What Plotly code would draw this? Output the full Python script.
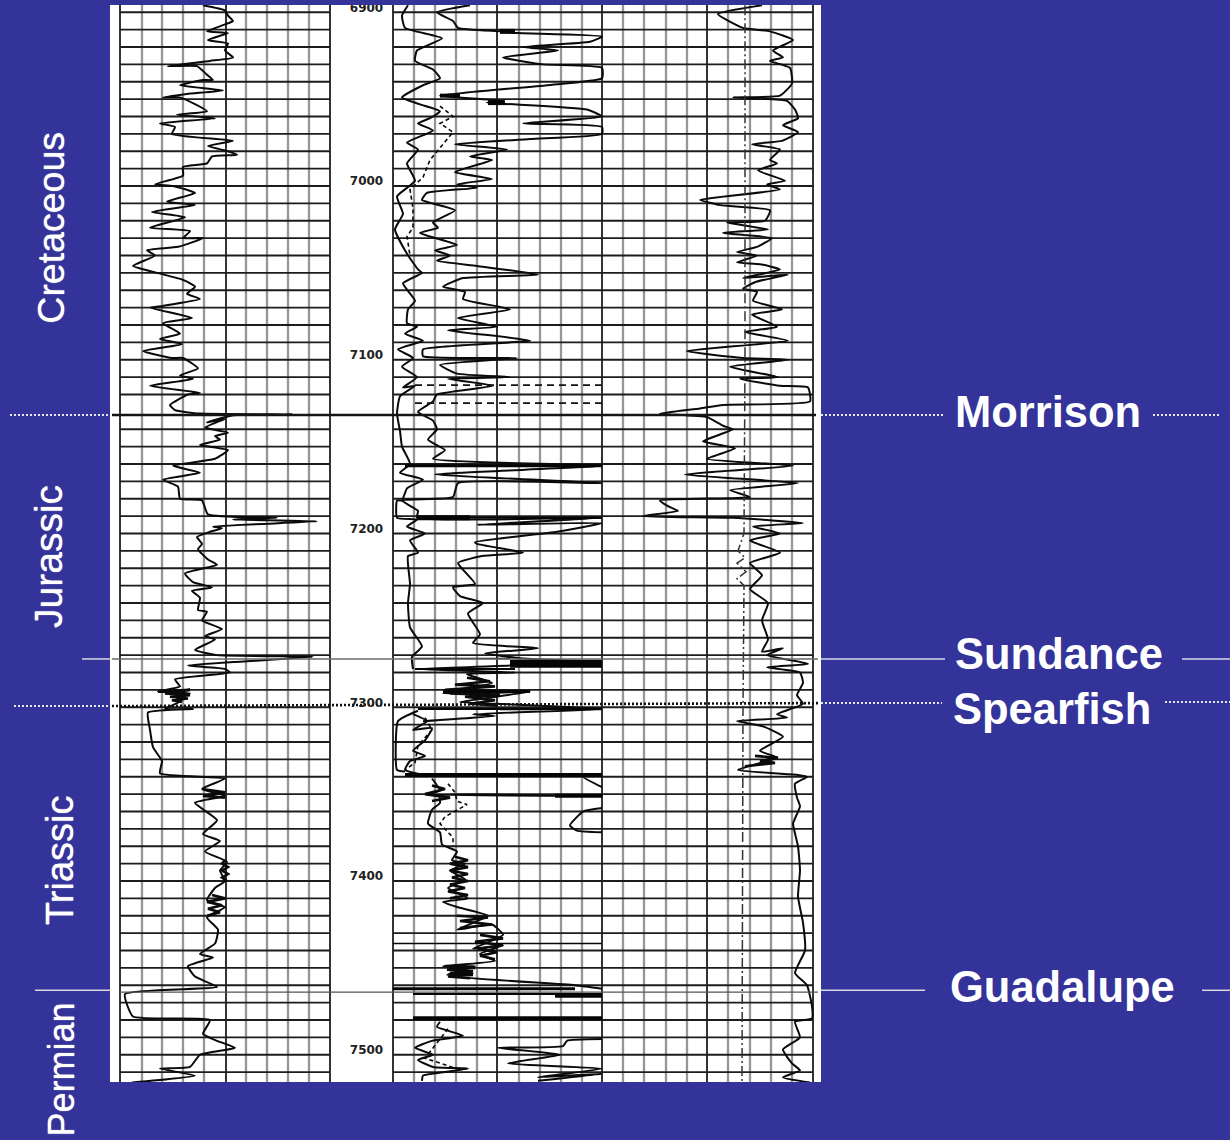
import plotly.graph_objects as go

# Depth in feet; curve value in chart units along the horizontal scale
gr_curve = [(203,6896),(225,6899),(228,6902),(233,6905),(225,6907),(207,6911),(228,6912),(208,6916),(228,6918),(225,6922),(233,6926),(210,6928),(168,6931),(197,6931),(207,6936),(213,6939),(203,6939),(180,6942),(223,6945),(187,6947),(163,6949),(180,6949),(207,6957),(177,6959),(215,6961),(160,6964),(175,6966),(172,6970),(233,6974),(208,6977),(228,6980),(237,6982),(212,6983),(207,6987),(183,6989),(183,6994),(155,6999),(173,7000),(195,7004),(167,7009),(195,7011),(152,7015),(185,7018),(150,7024),(190,7026),(183,7030),(203,7030),(178,7035),(147,7037),(155,7040),(133,7046),(157,7050),(183,7054),(195,7058),(187,7062),(200,7065),(163,7069),(150,7070),(192,7076),(163,7079),(180,7085),(160,7088),(182,7091),(143,7095),(172,7099),(183,7099),(198,7105),(180,7109),(193,7111),(150,7115),(200,7119),(188,7120),(170,7126),(175,7129),(200,7131),(293,7131.4),(233,7132),(207,7136),(225,7134),(205,7139),(228,7142),(215,7144),(220,7146),(200,7149),(228,7152),(215,7157),(173,7161),(200,7165),(163,7169),(178,7173),(180,7180),(202,7181),(208,7189),(277,7191),(233,7192),(317,7193),(213,7196),(222,7197),(210,7199),(197,7202),(202,7206),(198,7209),(208,7215),(217,7218),(185,7223),(193,7228),(212,7231),(192,7233),(200,7237),(198,7244),(207,7245),(202,7250),(222,7255),(205,7259),(215,7261),(195,7267),(217,7270),(313,7271),(233,7274),(188,7276),(225,7278),(230,7280),(175,7284),(180,7288),(158,7291),(190,7292),(175,7294),(182,7296),(165,7301),(193,7301),(148,7303),(150,7313),(153,7323),(162,7331),(160,7338),(225,7341),(202,7347),(225,7351),(195,7355),(217,7365),(203,7373),(220,7377),(205,7383),(227,7389),(220,7394),(225,7400),(215,7404),(207,7411),(225,7415),(207,7421),(218,7428),(215,7436),(200,7442),(213,7444),(188,7449),(195,7455),(217,7461),(125,7465),(133,7478),(210,7480),(203,7488),(217,7492),(235,7496),(200,7500),(190,7507),(160,7508),(195,7512),(132,7516)]

shallow_upper = [(408,6896),(402,6902),(405,6909),(442,6915),(417,6922),(415,6928),(433,6933),(440,6938),(423,6942),(402,6949),(420,6953),(440,6957),(430,6961),(418,6964),(433,6968),(407,6975),(418,6979),(407,6987),(415,6997),(397,7006),(403,7016),(395,7025),(407,7039),(418,7048),(422,7050),(403,7056),(415,7066),(408,7071),(407,7079),(417,7081),(405,7085),(423,7089),(398,7094),(413,7099),(402,7104),(417,7110),(403,7116),(415,7115),(400,7121),(397,7131),(400,7141),(402,7150),(410,7160),(400,7165),(423,7169),(407,7174),(402,7181),(397,7181),(397,7191),(417,7192),(407,7196),(425,7200),(410,7204),(418,7211),(408,7213),(410,7229),(408,7240),(410,7254),(422,7265),(412,7271),(413,7278)]
shallow_lower = [(418,7302),(398,7308),(397,7336),(405,7337)]

deep_upper = [(470,6896),(437,6900),(453,6905),(458,6909),(500,6911),(518,6912),(602,6914),(590,6917),(523,6920),(558,6922),(503,6926),(543,6930),(602,6932),(602,6938),(547,6942),(440,6948),(503,6951),(487,6952),(587,6956),(602,6960),(523,6964),(602,6966),(602,6970),(530,6973),(455,6976),(507,6979),(470,6983),(492,6985),(455,6992),(492,6996),(457,6999),(477,7001),(427,7004),(422,7008),(455,7014),(433,7021),(438,7024),(420,7027),(457,7034),(435,7037),(450,7040),(437,7043),(477,7046),(538,7051),(463,7053),(443,7058),(465,7061),(463,7065),(510,7071),(458,7076),(497,7081),(448,7083),(530,7089),(423,7094),(423,7098),(517,7099),(440,7103),(457,7108),(510,7110),(448,7111),(493,7115),(437,7120),(433,7124),(418,7130),(433,7135),(437,7140),(428,7146),(445,7152),(433,7157),(602,7161),(435,7166),(602,7171),(458,7171),(453,7179),(402,7181),(418,7187),(417,7191),(602,7191),(477,7195),(602,7194),(557,7199),(475,7205),(477,7206),(523,7211),(482,7213),(458,7217),(475,7229),(453,7231),(460,7236),(483,7240),(468,7246),(480,7258),(473,7263),(538,7266),(485,7269),(523,7272),(602,7274),(417,7278),(515,7280),(467,7281),(492,7286),(443,7292),(530,7291),(460,7297),(497,7298),(602,7301),(473,7304),(495,7305),(423,7308)]
deep_triassic = [(413,7304),(427,7308),(413,7313),(432,7312),(425,7319),(413,7325),(425,7328),(410,7331),(405,7336),(425,7339),(602,7339)]
deep_below = [(432,7341),(440,7348),(427,7350),(602,7351),(557,7351),(440,7351),(440,7355),(432,7359),(428,7367),(440,7372),(442,7379),(457,7383),(452,7388),(465,7390),(450,7394),(465,7399),(448,7404),(468,7410),(443,7412),(457,7415),(488,7420),(457,7428),(492,7425),(503,7431),(473,7439),(503,7437),(480,7442),(495,7446),(443,7449),(475,7449),(447,7454),(473,7453),(457,7455),(575,7460),(602,7462)]
deep_spike = [(602,7339),(583,7340),(602,7346)]
deep_tail = [(602,7358),(583,7360),(570,7368),(577,7371),(602,7372)]
deep_permian = [(440,7481),(437,7484),(463,7489),(432,7492),(415,7496),(433,7500),(418,7503),(433,7507),(468,7508),(423,7512),(422,7515)]
deep_permian_right = [(602,7491),(567,7492),(563,7495),(498,7496),(560,7500),(508,7505),(602,7508),(538,7513),(602,7511),(538,7515)]

# Densely wiggling intervals, drawn a little heavier
dense_gr_a = [(158,7291),(190,7290),(165,7292),(190,7293),(170,7294),(188,7295),(172,7296),(182,7297)]
dense_gr_b = [(225,7388),(222,7390),(228,7392),(222,7394),(228,7396),(222,7398),(227,7400)]
dense_gr_c = [(212,7408),(225,7410),(207,7412),(222,7414),(208,7416),(220,7418),(207,7420)]
dense_gr_d = [(202,7347),(225,7349),(203,7351),(225,7352)]
dense_deep_a = [(467,7283),(490,7285),(455,7287),(495,7288),(445,7290),(525,7291),(450,7292),(500,7293),(465,7294),(495,7296),(470,7298),(497,7299)]
dense_deep_b = [(455,7386),(468,7388),(450,7390),(468,7392),(450,7394),(468,7396),(452,7398),(468,7400),(450,7402),(465,7404),(448,7406),(468,7408),(450,7410)]
dense_deep_c = [(457,7420),(488,7421),(460,7423),(492,7425),(460,7427)]
dense_deep_d = [(480,7431),(503,7433),(475,7435),(503,7437),(478,7439),(497,7441),(480,7443),(495,7445)]
dense_deep_e = [(445,7449),(475,7450),(447,7451),(473,7452),(450,7453),(473,7454),(448,7455),(470,7456)]
dense_deep_f = [(432,7345),(445,7347),(425,7350),(450,7352),(432,7354)]
dense_t3_a = [(755,7328),(778,7329),(760,7331),(775,7332),(745,7334)]

dashed_a = [(440,6954),(453,6960),(440,6964),(453,6969),(430,6985),(423,6995),(410,7002),(413,7013),(413,7024),(407,7029),(410,7040)]
dashed_b = [(448,7344),(455,7349),(457,7354),(467,7356),(445,7363),(440,7367),(453,7375),(453,7380)]
dashed_c = [(448,7485),(437,7493),(425,7502),(457,7508),(470,7508)]
dashed_d = [(425,7306),(432,7313),(418,7322),(415,7332),(405,7336)]
dashed_flags_depth = [7114.6, 7125]
dashed_flags_x = [415, 602]

track3_curve = [(762,6896),(718,6901),(743,6909),(770,6911),(793,6916),(773,6922),(783,6926),(770,6928),(790,6932),(792,6941),(780,6948),(733,6949),(787,6951),(795,6956),(798,6961),(783,6965),(798,6969),(782,6974),(752,6976),(780,6979),(770,6985),(777,6987),(758,6991),(785,6997),(767,6999),(780,7002),(700,7008),(720,7011),(770,7014),(765,7020),(727,7021),(768,7025),(723,7027),(772,7030),(757,7035),(737,7038),(757,7040),(737,7044),(760,7045),(780,7048),(743,7053),(788,7051),(757,7055),(743,7059),(757,7061),(753,7066),(782,7071),(752,7074),(777,7081),(745,7084),(788,7089),(687,7095),(743,7099),(788,7100),(730,7104),(778,7110),(740,7111),(780,7115),(808,7116),(810,7124),(723,7126),(700,7128),(660,7131),(707,7133),(723,7138),(733,7140),(720,7143),(703,7147),(735,7151),(707,7157),(793,7161),(685,7166),(798,7171),(730,7175),(750,7179),(660,7181),(667,7184),(678,7187),(643,7190),(733,7191),(803,7194),(753,7196),(780,7200),(750,7204),(780,7211),(750,7217),(762,7224),(750,7232),(768,7240),(762,7250),(768,7261),(762,7268),(783,7266),(767,7270),(808,7275),(767,7277),(800,7280),(803,7286),(797,7293),(803,7298),(777,7304),(787,7306),(737,7308),(763,7311),(783,7317),(760,7325),(777,7329),(738,7336),(798,7339),(807,7340),(795,7344),(797,7352),(800,7357),(795,7364),(793,7367),(798,7380),(800,7394),(798,7409),(803,7424),(805,7440),(795,7453),(807,7460),(812,7472),(812,7479),(795,7481),(800,7490),(783,7497),(792,7505),(800,7509),(783,7513),(810,7516)]
track3_dashed = [(745,6896),(745,7100),(744,7200),(738,7210),(745,7214),(737,7217),(746,7222),(737,7226),(744,7230),(743,7300),(742,7516)]

# x-start, x-end, depth, thickness of the saturated log excursions
bands = [(405,602,7161,3),(417,470,7191,5),(417,602,7191,2),(510,602,7275,8),(415,510,7272,1.5),(415,515,7278,2),(405,602,7339,4),(555,602,7351,4),(393,575,7462,3),(413,602,7465,2),(555,602,7466,4),(413,602,7479,4),(500,602,7301,2.5),(418,602,7301,2),(443,530,7291,3),(500,515,6911,5),(440,460,6948,4),(488,505,6952,5),(393,602,7436,1.5)]

grid_depths = [d for d in range(6900, 7520, 10) if d != 7130]
track_spans = [(120, 330), (393, 813)]
minor_verticals = [142,162,183,204,246,267,288,309,414,435,456,477,519,540,561,582,623,644,666,687,728,750,771,792]
major_verticals = [120,226,330,393,497,602,707,813]

depth_ticks = [6900, 7000, 7100, 7200, 7300, 7400, 7500]

morrison_depth = 7131.8
sundance_depth = 7272.2
spearfish_left_depth, spearfish_right_depth = 7299.3, 7297.6
guadalupe_depth = 7463.9

PANEL_TOP, PANEL_BOTTOM = 6895.8, 7515.7
Y_RANGE = [7549.06, 6892.95]
BG = "#333399"

fig = go.Figure()

def segs(items):
    xs, ys = [], []
    for x0, x1, d0, d1 in items:
        xs += [x0, x1, None]
        ys += [d0, d1, None]
    return xs, ys

def add_lines(items, color, width, dash=None):
    xs, ys = segs(items)
    fig.add_trace(go.Scatter(x=xs, y=ys, mode="lines", hoverinfo="skip", showlegend=False,
                             line=dict(color=color, width=width, dash=dash)))

def add_curve(pts, width=2.0, dash=None, color="#0a0a0a", smooth=True):
    line = dict(color=color, width=width, dash=dash)
    if smooth:
        line.update(shape="spline", smoothing=0.45)
    fig.add_trace(go.Scatter(x=[p[0] for p in pts], y=[p[1] for p in pts], mode="lines",
                             hoverinfo="skip", showlegend=False, line=line))

add_lines([(x, x, PANEL_TOP, PANEL_BOTTOM) for x in minor_verticals], "#969696", 2.3)
add_lines([(x, x, PANEL_TOP, PANEL_BOTTOM) for x in major_verticals], "#2a2a2a", 1.9)
add_lines([(a, b, d, d) for d in grid_depths for a, b in track_spans], "#1c1c1c", 1.9)

for c in [gr_curve, shallow_upper, shallow_lower, deep_upper, deep_triassic, deep_below,
          deep_spike, deep_tail, deep_permian, deep_permian_right, track3_curve]:
    add_curve(c)
for c in [dense_gr_a, dense_gr_b, dense_gr_c, dense_gr_d, dense_deep_a, dense_deep_b,
          dense_deep_c, dense_deep_d, dense_deep_e, dense_deep_f, dense_t3_a]:
    add_curve(c, width=2.6, smooth=False)
for c in [dashed_a, dashed_b, dashed_c, dashed_d]:
    add_curve(c, width=1.6, dash="4px,3px", smooth=False)
add_curve(track3_dashed, width=1.5, dash="10px,3px,2px,3px", color="#333333", smooth=False)
add_lines([(dashed_flags_x[0], dashed_flags_x[1], d, d) for d in dashed_flags_depth], "#111111", 1.7, "7px,5px")

for width in sorted({b[3] for b in bands}):
    add_lines([(b[0], b[1], b[2], b[2]) for b in bands if b[3] == width], "#050505", width)

# Formation tops across the log
add_lines([(112, 816, morrison_depth, morrison_depth)], "#151515", 2.6)
add_lines([(112, 818, sundance_depth, sundance_depth)], "#6a6a6a", 1.5)
add_lines([(112, 818, spearfish_left_depth, spearfish_right_depth)], "#111111", 2.6, "2px,2px")
add_lines([(120, 818, guadalupe_depth, guadalupe_depth)], "#555555", 1.2)

# Formation tops outside the log
add_lines([(10, 110, morrison_depth, morrison_depth), (821, 945, morrison_depth, morrison_depth),
           (1153, 1220, morrison_depth, morrison_depth)], "#e6e6f2", 2, "2px,2px")
add_lines([(82, 110, sundance_depth, sundance_depth), (821, 945, sundance_depth, sundance_depth),
           (1182, 1230, sundance_depth, sundance_depth)], "#d8d8e8", 1.5)
add_lines([(14, 110, spearfish_left_depth, spearfish_left_depth), (821, 942, spearfish_right_depth, spearfish_right_depth),
           (1165, 1230, 7297, 7297)], "#e6e6f2", 2, "2px,2px")
add_lines([(35, 110, guadalupe_depth - 1, guadalupe_depth - 1), (821, 925, guadalupe_depth - 1, guadalupe_depth - 1),
           (1202, 1230, guadalupe_depth - 1, guadalupe_depth - 1)], "#d8d8e8", 1.5)

fig.add_trace(go.Scatter(x=[366.5] * len(depth_ticks), y=[d - 2.1 for d in depth_ticks],
                         text=[str(d) for d in depth_ticks], mode="text", hoverinfo="skip", showlegend=False,
                         textposition="middle center",
                         textfont=dict(family="DejaVu Sans", size=12, color="#222222", weight=700)))

shapes = [
    dict(type="rect", xref="x", yref="y", x0=110, x1=821, y0=PANEL_TOP, y1=PANEL_BOTTOM,
         fillcolor="white", line_width=0, layer="below"),
    dict(type="rect", xref="x", yref="y", x0=110, x1=821, y0=Y_RANGE[1], y1=PANEL_TOP,
         fillcolor=BG, line_width=0, layer="above"),
    dict(type="rect", xref="x", yref="y", x0=100, x1=821, y0=PANEL_BOTTOM, y1=Y_RANGE[0],
         fillcolor=BG, line_width=0, layer="above"),
]

annotations = []
for text, x, d in [("Morrison", 1048, 7130), ("Sundance", 1058.5, 7269.2),
                   ("Spearfish", 1052, 7301), ("Guadalupe", 1062.5, 7461)]:
    annotations.append(dict(x=x, y=d, xref="x", yref="y", text=f"<b>{text}</b>", showarrow=False,
                            font=dict(family="Liberation Sans", size=43.5, color="white")))
for text, x, d, size in [("Cretaceous", 51, 7024, 37.5), ("Jurassic", 49, 7213.5, 39),
                         ("Triassic", 60, 7388.5, 38), ("Permian", 62, 7508.5, 36)]:
    annotations.append(dict(x=x, y=d, xref="x", yref="y", text=text, showarrow=False, textangle=-90,
                            font=dict(family="Liberation Sans", size=size, color="white",
                                      shadow="0 0 1px #ffffff")))

fig.update_layout(
    width=1230, height=1140, margin=dict(l=0, r=0, t=0, b=0),
    paper_bgcolor=BG, plot_bgcolor=BG, showlegend=False,
    xaxis=dict(range=[0, 1230], visible=False, fixedrange=True),
    yaxis=dict(range=Y_RANGE, visible=False, fixedrange=True),
    shapes=shapes, annotations=annotations,
)
fig.write_html("out.html", config=dict(displayModeBar=False),
               post_script="document.body.style.margin='0';document.body.style.background='#333399';document.documentElement.style.overflow='hidden';")
